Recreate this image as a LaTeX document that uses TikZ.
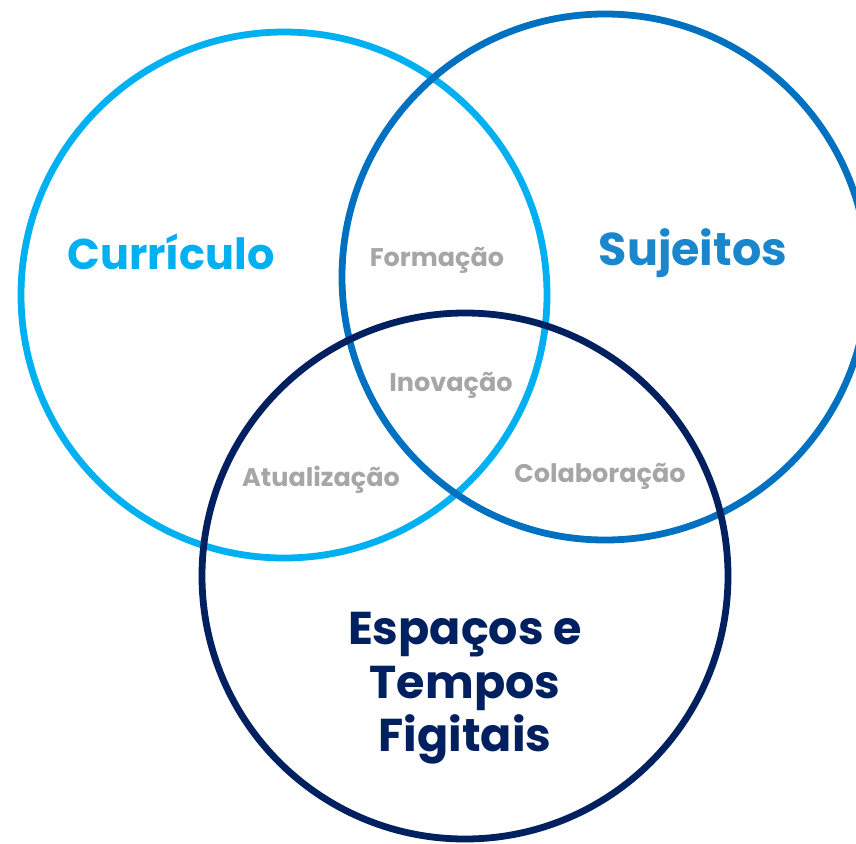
\documentclass[tikz,border=0pt]{standalone}
\usepackage{fontspec}
\setmainfont{Poppins}[BoldFont={* Bold}]
\definecolor{cLight}{HTML}{00B0F0}
\definecolor{cMid}{HTML}{0070C0}
\definecolor{cNavy}{HTML}{002060}
\definecolor{cSuj}{HTML}{1A86CB}
\definecolor{cGray}{HTML}{A6A6A6}
\tikzset{
  ring/.style={line width=6.8pt},
  big/.style={font=\bfseries\fontsize{46}{54}\selectfont, anchor=base, inner sep=0pt},
  small/.style={font=\bfseries\fontsize{25.5}{30}\selectfont, text=cGray, anchor=base, inner sep=0pt},
}
\begin{document}
\begin{tikzpicture}[x=1pt,y=-1pt]
\useasboundingbox (0,0) rectangle (856,843);
\begin{scope}
\clip (0,0) rectangle (856,843);
\draw[ring, cLight] (284,295) circle (263);
\draw[ring, cMid] (605,277) circle (263);
\draw[ring, cNavy] (465,576) circle (263);
\end{scope}
\node[big, text=cLight, font=\bfseries\fontsize{43}{50}\selectfont] (curr) at (171,269) {Currículo};
\node[big, text=cSuj] (suj) at (693,265) {Sujeitos};
\node[small] (form) at (437,266) {Formação};
\node[small] (inov) at (451,391) {Inovação};
\node[small] (atual) at (321,486) {Atualização};
\node[small] (colab) at (600,482) {Colaboração};
\node[big, text=cNavy] (esp1) at (465,644) {Espaços e};
\node[big, text=cNavy] (esp2) at (465,698) {Tempos};
\node[big, text=cNavy] (esp3) at (465,751) {Figitais};
\end{tikzpicture}
\end{document}
